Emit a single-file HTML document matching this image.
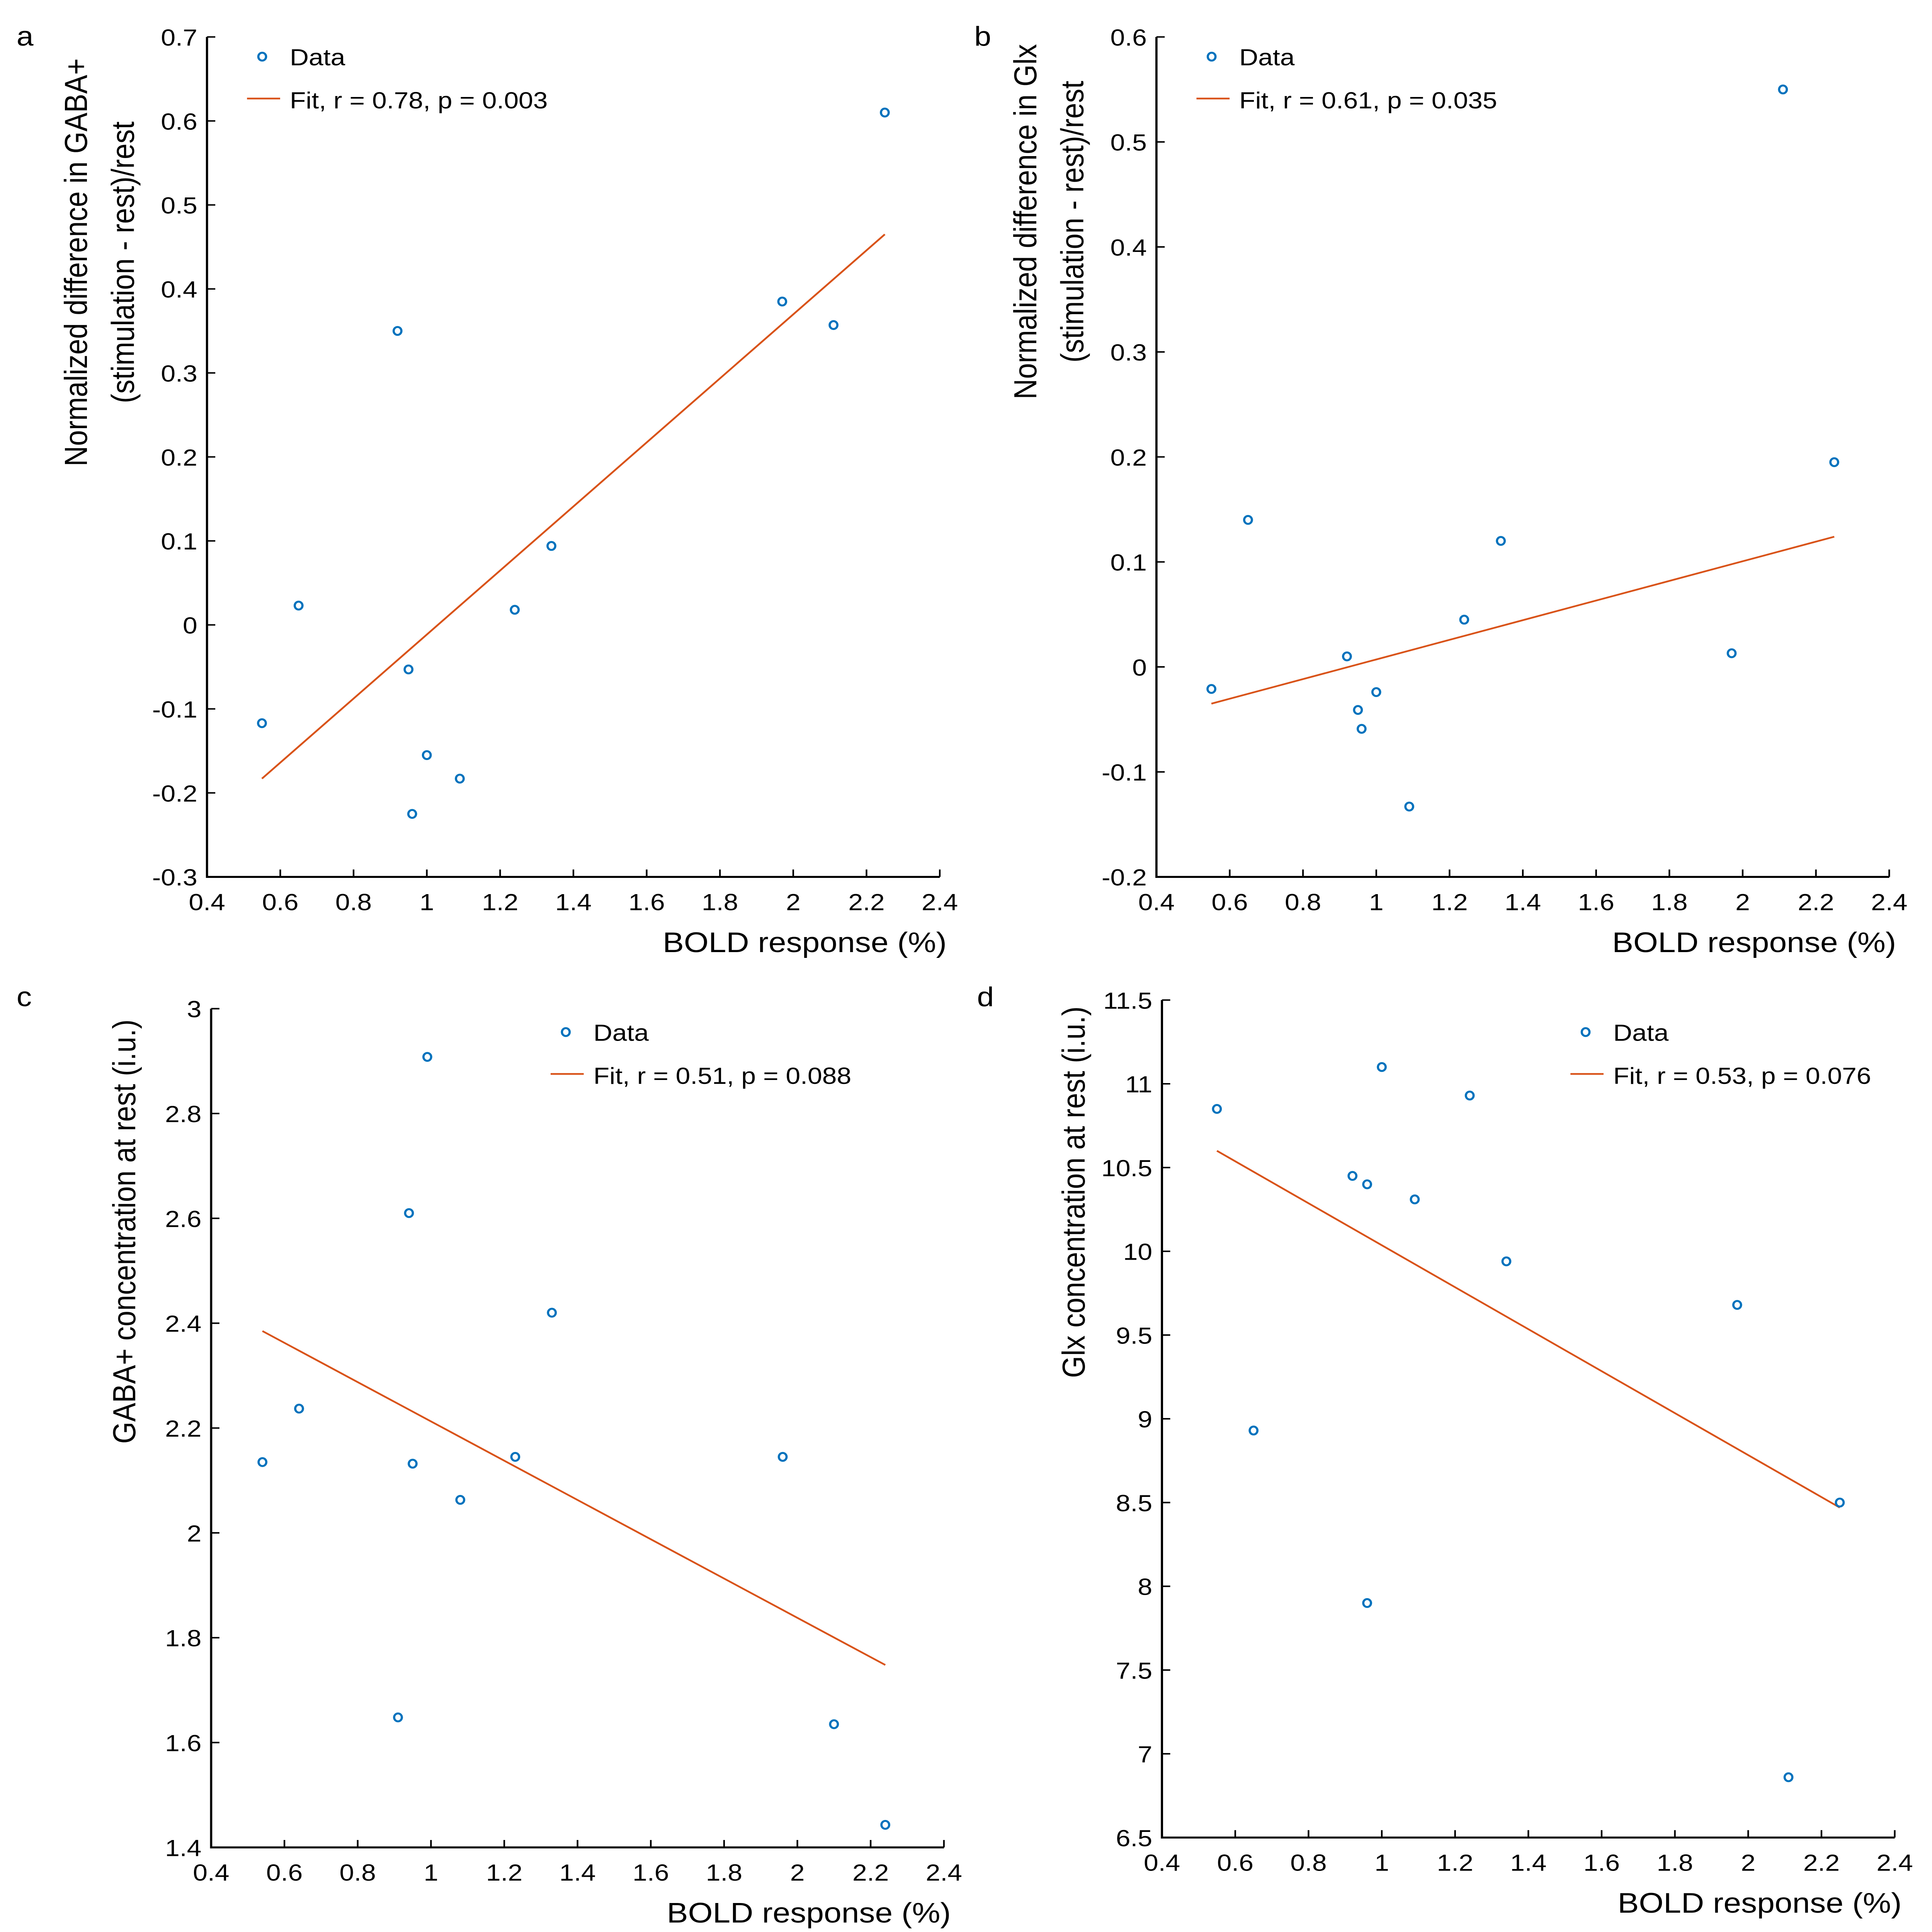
<!DOCTYPE html>
<html><head><meta charset="utf-8"><style>
html,body{margin:0;padding:0;background:#fff;width:100vw;height:100vh;overflow:hidden;}
svg{display:block;position:fixed;left:0;top:0;width:100vw;height:100vh;font-family:"Liberation Sans",sans-serif;}
</style></head><body>
<svg id="fig" viewBox="0 0 1400 1568.7" preserveAspectRatio="none" xmlns="http://www.w3.org/2000/svg"></svg>
<script>
const xTicks=[0.4,0.6,0.8,1,1.2,1.4,1.6,1.8,2,2.2,2.4];
const aX=[0.55,0.65,0.92,0.95,0.96,1.0,1.09,1.24,1.34,1.97,2.11,2.25];
const aY=[-0.117,0.023,0.35,-0.053,-0.225,-0.155,-0.183,0.018,0.094,0.385,0.357,0.61];
const aFit=[-0.183,0.465];
const aTicks=[-0.3,-0.2,-0.1,0,0.1,0.2,0.3,0.4,0.5,0.6,0.7];
const bX=[0.55,0.65,0.92,0.95,0.96,1.0,1.09,1.24,1.34,1.97,2.11,2.25];
const bY=[-0.021,0.14,0.01,-0.041,-0.059,-0.024,-0.133,0.045,0.12,0.013,0.55,0.195];
const bFit=[-0.035,0.124];
const bTicks=[-0.2,-0.1,0,0.1,0.2,0.3,0.4,0.5,0.6];
const cX=[0.54,0.64,0.91,0.94,0.95,0.99,1.08,1.23,1.33,1.96,2.10,2.24];
const cY=[2.135,2.237,1.648,2.61,2.132,2.908,2.063,2.145,2.42,2.145,1.635,1.443];
const cFit=[2.385,1.748];
const cTicks=[1.4,1.6,1.8,2,2.2,2.4,2.6,2.8,3];
const dX=[0.55,0.65,0.92,0.96,0.96,1.0,1.09,1.24,1.34,1.97,2.11,2.25];
const dY=[10.85,8.93,10.45,10.4,7.9,11.1,10.31,10.93,9.94,9.68,6.86,8.5];
const dFit=[10.6,8.47];
const dTicks=[6.5,7,7.5,8,8.5,9,9.5,10,10.5,11,11.5];
const NS="http://www.w3.org/2000/svg";
const svg=document.getElementById('fig');
function mk(tag,attrs,parent,text){const e=document.createElementNS(NS,tag);for(const k in attrs)e.setAttribute(k,attrs[k]);if(text!==undefined)e.textContent=text;(parent||svg).appendChild(e);return e;}
function panel(p){
  const g=mk('g',{});
  
  
  const sx=v=>p.x0+(v-0.4)/2.0*(p.x1-p.x0);
  const sy=v=>p.yb+(v-p.ymin)/(p.ymax-p.ymin)*(p.yt-p.yb);
  const ax=mk('path',{d:`M${p.x0},${p.yt}V${p.yb}H${p.x1}`,fill:'none',stroke:'#000','stroke-width':1.6},g);
  
  
  xTicks.forEach(t=>{const x=sx(t);
    mk('line',{x1:x,x2:x,y1:p.yb,y2:p.yb-6,stroke:'#000','stroke-width':1.2},g);
    const tx=mk('text',{x:x,y:p.yb+27,'font-size':19,'text-anchor':'middle'},g,String(t));
    
    });
  p.ticks.forEach(t=>{const y=sy(t);
    mk('line',{x1:p.x0,x2:p.x0+6,y1:y,y2:y,stroke:'#000','stroke-width':1.2},g);
    const tx=mk('text',{x:p.x0-7,y:y+7,'font-size':19,'text-anchor':'end'},g,String(t));
    
    });
  const xt=mk('text',{x:p.x1+5,y:p.yb+61,'font-size':23,'text-anchor':'end'},g,'BOLD response (%)');
  
  
  const yt=mk('text',{transform:`translate(${p.ytx},${p.yty}) rotate(-90)`,'font-size':23,'text-anchor':'middle'},g);
  
  
  p.ytitle.forEach((l,i)=>{mk('tspan',{x:0,dy:i?34:0},yt,l);});
  const fit=mk('line',{x1:sx(p.xs[0]),y1:sy(p.fit[0]),x2:sx(p.xs[p.xs.length-1]),y2:sy(p.fit[1]),stroke:'#d95319','stroke-width':1.4},g);
  
  
  p.xs.forEach((v,i)=>{const c=mk('ellipse',{cx:sx(v),cy:sy(p.ys[i]),rx:2.8,ry:3.2,fill:'none',stroke:'#0072bd','stroke-width':1.6},g);
    
    });
  const lm=mk('ellipse',{cx:p.lx,cy:p.ly,rx:2.8,ry:3.2,fill:'none',stroke:'#0072bd','stroke-width':1.6},g);
  
  
  const l1=mk('text',{x:p.lx+20,y:p.ly+7,'font-size':19},g,'Data');
  
  
  const ll=mk('line',{x1:p.lx-11,x2:p.lx+13,y1:p.ly+34,y2:p.ly+34,stroke:'#d95319','stroke-width':1.4},g);
  
  
  const l2=mk('text',{x:p.lx+20,y:p.ly+42,'font-size':19},g,p.fitLabel);
  
  
  const pl=mk('text',{x:p.px,y:p.py,'font-size':22},g,p.id);
  
  
}
panel({id:'a',x0:150,x1:681,yt:30,yb:712,ymin:-0.3,ymax:0.7,ticks:aTicks,xs:aX,ys:aY,fit:aFit,lx:190,ly:46,fitLabel:'Fit, r = 0.78, p = 0.003',ytitle:['Normalized difference in GABA+','(stimulation - rest)/rest'],ytx:63,yty:213,px:12,py:37});
panel({id:'b',x0:838,x1:1369,yt:30,yb:712,ymin:-0.2,ymax:0.6,ticks:bTicks,xs:bX,ys:bY,fit:bFit,lx:878,ly:46,fitLabel:'Fit, r = 0.61, p = 0.035',ytitle:['Normalized difference in Glx','(stimulation - rest)/rest'],ytx:751,yty:180,px:706,py:37});
panel({id:'c',x0:153,x1:684,yt:819,yb:1500,ymin:1.4,ymax:3,ticks:cTicks,xs:cX,ys:cY,fit:cFit,lx:410,ly:838,fitLabel:'Fit, r = 0.51, p = 0.088',ytitle:['GABA+ concentration at rest (i.u.)'],ytx:98,yty:1000,px:12,py:817});
panel({id:'d',x0:842,x1:1373,yt:812,yb:1492,ymin:6.5,ymax:11.5,ticks:dTicks,xs:dX,ys:dY,fit:dFit,lx:1149,ly:838,fitLabel:'Fit, r = 0.53, p = 0.076',ytitle:['Glx concentration at rest (i.u.)'],ytx:786,yty:968,px:708,py:817});
</script>
</body></html>
